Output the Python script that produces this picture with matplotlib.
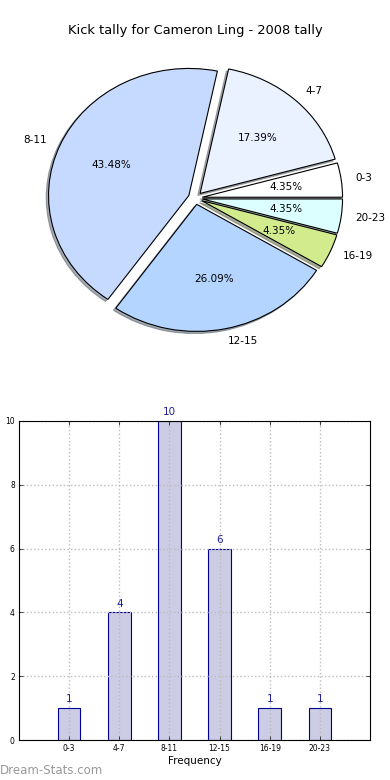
import matplotlib
matplotlib.use("Agg")
import matplotlib.pyplot as plt
import numpy as np

# kick tally per time bucket
categories = ["0-3", "4-7", "8-11", "12-15", "16-19", "20-23"]
kicks = [1, 4, 10, 6, 1, 1]
pie_colors = ["#FFFFFF", "#EAF1FF", "#C6D9FF", "#B4D5FF", "#D1EB8D", "#DCFFFF"]
yticks = [0, 2, 4, 6, 8, 10]

plt.rcParams["font.family"] = ["DejaVu Sans"]

fig = plt.figure(figsize=(3.9, 7.8), dpi=100)

# --- pie (old-style, not forced to equal aspect) ---
ax1 = fig.add_axes([0.0330, 0.5342, 0.9354, 0.4237])
wedges, texts, autotexts = ax1.pie(
    kicks,
    labels=categories,
    colors=pie_colors,
    explode=[0.05] * len(kicks),
    autopct="%1.2f%%",
    shadow={"ox": -0.012, "oy": -0.012, "shade": 0.6},
    startangle=0,
    wedgeprops={"edgecolor": "black", "linewidth": 0.8},
    textprops={"fontsize": 7.5},
)
ax1.set_aspect("auto")
ax1.set_xlim(-1.3, 1.3)
ax1.set_ylim(-1.3, 1.3)
ax1.axis("off")
fig.text(0.5, 0.961, "Kick tally for Cameron Ling - 2008 tally",
         ha="center", va="center", fontsize=9.4)

# --- bar chart ---
ax2 = fig.add_axes([19 / 390, 40 / 780, 351 / 390, 319 / 780])
x = np.arange(len(categories))
ax2.bar(x, kicks, width=0.45, color="#CCCCE4", edgecolor="#000099",
        linewidth=0.8, zorder=2)
for xi, v in zip(x, kicks):
    ax2.text(xi, v + 0.12, str(v), ha="center", va="bottom",
             fontsize=7.5, color="#1F1F99")
ax2.set_xlim(-1, 6)
ax2.set_ylim(0, 10)
ax2.set_xticks(x)
ax2.set_xticklabels(categories, fontsize=5.5)
ax2.set_yticks(yticks)
ax2.set_yticklabels([str(t) for t in yticks], fontsize=5.5)
ax2.tick_params(direction="in", length=3, width=0.5, pad=3,
                top=True, right=True)
ax2.grid(True, linestyle=":", color="#BBBBBB", linewidth=1, zorder=3)
ax2.set_axisbelow(False)
ax2.set_xlabel("Frequency", fontsize=7.5, labelpad=2)
for s in ax2.spines.values():
    s.set_linewidth(0.8)
    s.set_zorder(5)

fig.text(-0.014, 0.256, "Number of Kicks", rotation=90, ha="center",
         va="center", fontsize=7.5)
fig.text(0.0, 0.012, "Dream-Stats.com", ha="left", va="center",
         fontsize=8.5, color="#999999")

fig.savefig("out.png", dpi=100)
